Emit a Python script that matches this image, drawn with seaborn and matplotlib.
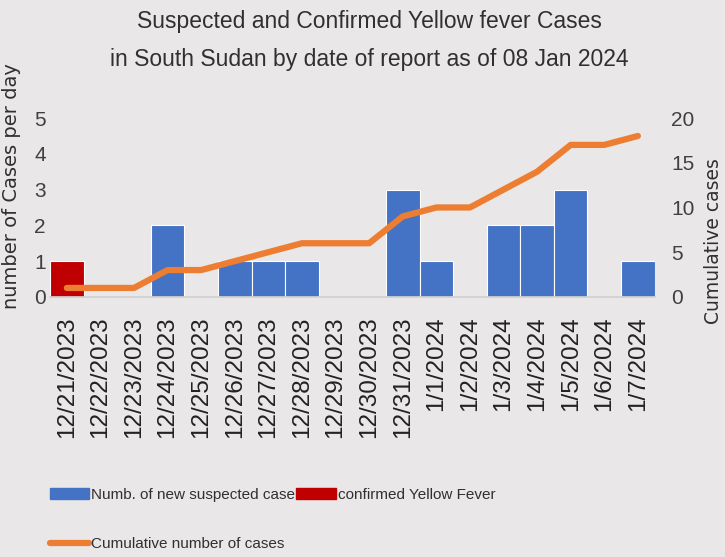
import numpy as np
import pandas as pd
import matplotlib
matplotlib.use("Agg")
import matplotlib.pyplot as plt
import seaborn as sns
from matplotlib.patches import Patch
from matplotlib.lines import Line2D

dates = ["12/21/2023", "12/22/2023", "12/23/2023", "12/24/2023", "12/25/2023",
         "12/26/2023", "12/27/2023", "12/28/2023", "12/29/2023", "12/30/2023",
         "12/31/2023", "1/1/2024", "1/2/2024", "1/3/2024", "1/4/2024",
         "1/5/2024", "1/6/2024", "1/7/2024"]
suspected = [0, 0, 0, 2, 0, 1, 1, 1, 0, 0, 3, 1, 0, 2, 2, 3, 0, 1]
confirmed = [1, 0, 0, 0, 0, 0, 0, 0, 0, 0, 0, 0, 0, 0, 0, 0, 0, 0]
cumulative = [1, 1, 1, 3, 3, 4, 5, 6, 6, 6, 9, 10, 10, 12, 14, 17, 17, 18]

df = pd.DataFrame({"date": dates, "suspected": suspected,
                   "confirmed": confirmed, "cumulative": cumulative})

BG = "#e9e7e7"
BLUE = "#4472c4"
RED = "#c00000"
ORANGE = "#ed7d31"

sns.set_theme(style="white")
plt.rcParams["font.family"] = ["Liberation Sans Narrow", "Liberation Sans", "DejaVu Sans"]

fig = plt.figure(figsize=(7.25, 5.57), dpi=100, facecolor=BG)
ax = fig.add_axes([0.069, 0.467, 0.834, 0.321])
ax.set_facecolor(BG)

sns.barplot(data=df, x="date", y="suspected", order=dates, color=BLUE,
            width=1.0, edgecolor="white", linewidth=0.8, saturation=1, ax=ax)
sns.barplot(data=df, x="date", y="confirmed", order=dates, color=RED,
            width=1.0, edgecolor="white", linewidth=0.8, saturation=1, ax=ax)
ax.set_ylim(0, 5)
ax.set_xlim(-0.5, len(dates) - 0.5)
ax.set_yticks(range(0, 6))
ax.tick_params(axis="y", labelsize=15, colors="#404040", length=0, pad=3)
ax.tick_params(axis="x", labelsize=17.5, colors="#222222", length=0, pad=14)
ax.set_xticks(range(len(dates)))
ax.set_xticklabels(dates, rotation=90)
ax.set_xlabel("")
ax.set_ylabel("number of Cases per day", fontsize=14, color="#303030",
              family=["DejaVu Sans"])
ax.yaxis.set_label_coords(-0.048, 0.62)
for s in ["top", "right", "left"]:
    ax.spines[s].set_visible(False)
ax.spines["bottom"].set_color("#d0d0d0")

ax2 = ax.twinx()
sns.lineplot(x=df.index, y=df["cumulative"], color=ORANGE, linewidth=4.5,
             ax=ax2, solid_capstyle="round")
ax2.set_ylim(0, 20)
ax2.set_yticks([0, 5, 10, 15, 20])
ax2.tick_params(axis="y", labelsize=15, colors="#404040", length=0, pad=12)
ax2.set_ylabel("Cumulative cases", fontsize=13.5, color="#303030",
               family=["DejaVu Sans"])
ax2.yaxis.set_label_coords(1.082, 0.31)
for s in ["top", "right", "left", "bottom"]:
    ax2.spines[s].set_visible(False)

fig.text(0.51, 0.962, "Suspected and Confirmed Yellow fever Cases",
         ha="center", va="center", fontsize=16.5, color="#303030")
fig.text(0.51, 0.893, "in South Sudan by date of report as of 08 Jan 2024",
         ha="center", va="center", fontsize=16.5, color="#303030")

handles = [Patch(facecolor=BLUE, edgecolor=BLUE),
           Line2D([0], [0], color=ORANGE, linewidth=4.5),
           Patch(facecolor=RED, edgecolor=RED)]
labels = ["Numb. of new suspected case", "Cumulative number of cases",
          "confirmed Yellow Fever"]
leg = fig.legend(handles, labels, loc="upper left", bbox_to_anchor=(0.06, 0.135),
                 ncol=2, frameon=False, fontsize=11, handlelength=2.6,
                 handletextpad=0.1, columnspacing=0.1, labelspacing=2.3,
                 borderaxespad=0)
for t in leg.get_texts():
    t.set_color("#303030")

fig.savefig("out.png", dpi=100, facecolor=BG)
